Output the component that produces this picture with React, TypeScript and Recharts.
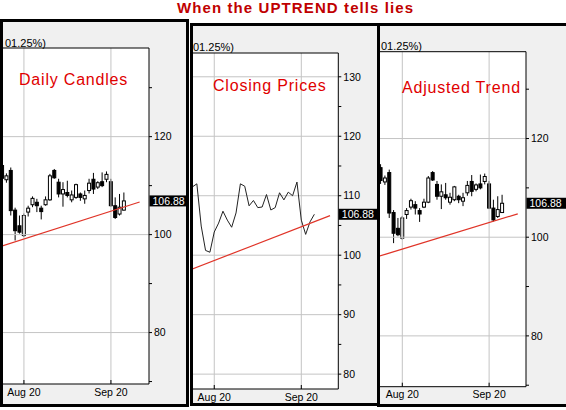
import React from "react";
import {
  ComposedChart,
  Bar,
  Line,
  XAxis,
  YAxis,
  ReferenceLine,
  CartesianGrid,
} from "recharts";

// trading days shown on every panel
const dates = [
  "Aug 13", "Aug 16", "Aug 17", "Aug 18", "Aug 19", "Aug 20",
  "Aug 23", "Aug 24", "Aug 25", "Aug 26", "Aug 27",
  "Aug 30", "Aug 31", "Sep 1", "Sep 2", "Sep 3",
  "Sep 7", "Sep 8", "Sep 9", "Sep 10",
  "Sep 13", "Sep 14", "Sep 15", "Sep 16", "Sep 17",
  "Sep 20", "Sep 21", "Sep 22", "Sep 23",
];
const opens = [
  114.1, 111.2, 113.1, 105.0, 101.8, 99.8, 104.6, 106.1, 106.6, 105.4, 106.1,
  107.1, 113.1, 110.7, 108.3, 108.6, 107.1, 107.6, 108.3, 107.3, 109.0, 111.3,
  109.7, 110.8, 111.3, 110.8, 105.9, 104.2, 105.0,
];
const highs = [
  114.8, 112.5, 113.7, 105.5, 103.9, 104.3, 105.9, 107.8, 107.3, 105.9, 107.8,
  112.4, 113.4, 111.4, 110.7, 111.0, 109.0, 110.4, 108.6, 109.0, 111.4, 112.6,
  110.9, 112.7, 112.9, 111.4, 107.6, 108.3, 108.6,
];
const lows = [
  110.8, 110.6, 103.9, 98.8, 100.2, 99.5, 103.7, 105.6, 104.6, 103.1, 105.9,
  106.9, 111.4, 107.6, 105.7, 107.6, 106.6, 107.3, 106.9, 106.3, 108.4, 108.3,
  109.3, 109.7, 110.7, 105.7, 103.2, 103.9, 104.9,
];
const closes = [
  111.5, 112.0, 104.9, 100.8, 100.5, 103.9, 105.4, 107.4, 105.9, 104.7, 107.1,
  112.0, 111.6, 108.3, 109.2, 108.0, 108.1, 110.2, 107.6, 108.0, 110.5, 109.3,
  110.6, 110.0, 112.3, 105.9, 103.5, 105.6, 106.88,
];

const xTickLabels = ["Aug 20", "Sep 20"];
const yTicksWide = [70, 80, 90, 100, 110, 120, 130];
const yTicksClose = [80, 85, 90, 95, 100, 105, 110, 115, 120, 125, 130];

// trend lines: day index -> price
const trendIdx = [-0.5, 31.6];
const trendVals = [97.55, 106.65];
const adjTrendIdx = [-0.2, 31.6];
const adjTrendVals = [96.18, 104.74];

const chartTitle = "When the UPTREND tells lies";
const percentNote = "01.25%)";

const candles = dates.map((date, i) => ({
  i,
  date,
  o: opens[i],
  h: highs[i],
  l: lows[i],
  c: closes[i],
  range: [lows[i], highs[i]],
}));
const xTicks = xTickLabels.map((t) => dates.indexOf(t));
const trendMain = trendIdx.map((i, k) => ({ i, v: trendVals[k] }));
const trendAdj = adjTrendIdx.map((i, k) => ({ i, v: adjTrendVals[k] }));
const lastClose = closes[closes.length - 1];

const FONT = "'Liberation Sans', Arial, Helvetica, sans-serif";
const GRID = "#c4c4c4";

const Candle = (props: any) => {
  const { x, y, width, height, payload } = props;
  if (payload == null || !isFinite(x) || !isFinite(y)) return null;
  const top0 = Math.min(y, y + height);
  const span = Math.abs(height);
  const { o, h, l, c } = payload;
  const ppu = span / (h - l || 1);
  const yOf = (v: number) => top0 + (h - v) * ppu;
  const bTop = yOf(Math.max(o, c));
  const bBot = yOf(Math.min(o, c));
  const cx = x + width / 2;
  const up = c >= o;
  return (
    <g>
      <line x1={cx} x2={cx} y1={top0} y2={top0 + span} stroke="#000" strokeWidth={1} />
      <rect
        x={cx - 1.5}
        y={bTop}
        width={3}
        height={Math.max(bBot - bTop, 1)}
        fill={up ? "#fff" : "#000"}
        stroke="#000"
        strokeWidth={1}
      />
    </g>
  );
};

const DateTick = (props: any) => {
  const { x, y, payload } = props;
  return (
    <g>
      <line x1={x} x2={x} y1={y} y2={y - 4} stroke="#000" />
      <text x={x} y={y + 11.5} textAnchor="middle" fontSize={10.5} fill="#000">
        {dates[payload.value]}
      </text>
    </g>
  );
};

const PriceTag = (props: any) => {
  const vb = props.viewBox || {};
  const x = vb.x + vb.width + 0.5;
  const y = vb.y;
  return (
    <g>
      <rect x={x} y={y - 5.5} width={42} height={11} fill="#000" />
      <text x={x + 3} y={y + 3.9} fill="#fff" fontSize={10.5}>
        {lastClose.toFixed(2)}
      </text>
    </g>
  );
};

type PanelProps = {
  box: number[];
  plot: number[];
  xDomain: number[];
  yDomain: number[];
  yTicks: number[];
  labelEvery: number;
  yGrid: number[];
  kind: "candles" | "line";
  trend: { i: number; v: number }[];
  label: string;
  labelPos: number[];
  notePos: number[];
  noRightBorder?: boolean;
};

function Panel(p: PanelProps) {
  const [bx, by, bw, bh] = p.box;
  const [pl, pt, pr, pb] = p.plot;
  const yAxisW = 30;
  const xAxisH = 14;
  const margin = {
    left: pl - bx,
    top: pt - by,
    right: bx + bw - pr - yAxisW,
    bottom: by + bh - pb - xAxisH,
  };
  return (
    <div
      style={{
        position: "absolute",
        left: bx,
        top: by,
        width: bw,
        height: bh,
        background: "#f0f0f0",
        overflow: "hidden",
      }}
    >
      <div style={{ position: "absolute", left: 0, top: 0 }}>
        <ComposedChart width={bw} height={bh} data={candles} margin={margin}>
          <CartesianGrid fill="#fff" stroke="none" horizontal={false} vertical={false} />
          <XAxis
            type="number"
            dataKey="i"
            domain={p.xDomain}
            allowDataOverflow
            ticks={xTicks}
            interval={0}
            height={xAxisH}
            tickSize={0}
            tickMargin={0}
            tickLine={false}
            axisLine={{ stroke: "#000" }}
            tick={(t: any) => <DateTick {...t} />}
          />
          <YAxis
            orientation="right"
            type="number"
            domain={p.yDomain}
            allowDataOverflow
            ticks={p.yTicks}
            interval={0}
            width={yAxisW}
            tickSize={3}
            tickMargin={2}
            tickLine={{ stroke: "#000" }}
            axisLine={{ stroke: "#000" }}
            tick={{ fill: "#000", fontSize: 10.5 }}
            tickFormatter={(v: number) => (v % p.labelEvery === 0 ? String(v) : "")}
          />
          {p.yGrid.map((v) => (
            <ReferenceLine key={"h" + v} y={v} stroke={GRID} />
          ))}
          {xTicks.map((v) => (
            <ReferenceLine key={"v" + v} x={v} stroke={GRID} />
          ))}
          <ReferenceLine y={p.yDomain[1]} stroke="#000" />
          {p.kind === "candles" ? (
            <Bar
              dataKey="range"
              barSize={4}
              shape={(s: any) => <Candle {...s} />}
              isAnimationActive={false}
            />
          ) : (
            <Line
              dataKey="c"
              stroke="#222"
              strokeWidth={1}
              dot={false}
              isAnimationActive={false}
            />
          )}
          <Line
            data={p.trend}
            dataKey="v"
            stroke="#e03428"
            strokeWidth={1.2}
            dot={false}
            isAnimationActive={false}
          />
          <ReferenceLine
            y={lastClose}
            stroke="none"
            label={{ value: lastClose.toFixed(2), content: (lp: any) => <PriceTag {...lp} /> }}
          />
        </ComposedChart>
      </div>
      <div
        style={{
          position: "absolute",
          left: p.notePos[0] - bx,
          top: p.notePos[1] - by,
          fontSize: 11,
          lineHeight: 1,
          color: "#000",
          whiteSpace: "nowrap",
        }}
      >
        {percentNote}
      </div>
      <div
        style={{
          position: "absolute",
          left: p.labelPos[0] - bx,
          top: p.labelPos[1] - by,
          fontSize: 16,
          lineHeight: 1,
          letterSpacing: 0.8,
          color: "#e00000",
          whiteSpace: "nowrap",
        }}
      >
        {p.label}
      </div>
      <div
        style={{
          position: "absolute",
          inset: 0,
          boxSizing: "border-box",
          border: "3px solid #000",
          borderRight: p.noRightBorder ? "none" : "3px solid #000",
          pointerEvents: "none",
        }}
      />
    </div>
  );
}

export default function App() {
  return (
    <div
      style={{
        position: "absolute",
        left: 0,
        top: 0,
        width: 566,
        height: 410,
        background: "#fff",
        overflow: "hidden",
        fontFamily: FONT,
      }}
    >
      <div
        style={{
          position: "absolute",
          left: 177,
          top: 0,
          fontSize: 15,
          lineHeight: 1,
          fontWeight: "bold",
          letterSpacing: 1.1,
          color: "#c00000",
          whiteSpace: "nowrap",
        }}
      >
        {chartTitle}
      </div>
      <Panel
        box={[0, 19, 189, 388]}
        plot={[0, 48, 149, 384]}
        xDomain={[-0.5, 33.75]}
        yDomain={[69.5, 138.1]}
        yTicks={yTicksWide}
        labelEvery={20}
        yGrid={[80, 100, 120]}
        kind="candles"
        trend={trendMain}
        label="Daily Candles"
        labelPos={[19, 72.2]}
        notePos={[5, 37.7]}
      />
      <Panel
        box={[190, 23, 187, 383]}
        plot={[192.5, 53, 338.3, 389]}
        xDomain={[0, 33.5]}
        yDomain={[77.5, 134.0]}
        yTicks={yTicksClose}
        labelEvery={10}
        yGrid={[80, 90, 100, 110, 120, 130]}
        kind="line"
        trend={trendMain}
        label="Closing Prices"
        labelPos={[213, 77.5]}
        notePos={[193, 41.5]}
        noRightBorder
      />
      <Panel
        box={[377, 23, 192, 384]}
        plot={[380, 51.7, 526, 386.7]}
        xDomain={[-0.14, 33.5]}
        yDomain={[69.7, 137.6]}
        yTicks={yTicksWide}
        labelEvery={20}
        yGrid={[80, 100, 120]}
        kind="candles"
        trend={trendAdj}
        label="Adjusted Trend"
        labelPos={[402, 79.9]}
        notePos={[381, 40.5]}
      />
    </div>
  );
}
